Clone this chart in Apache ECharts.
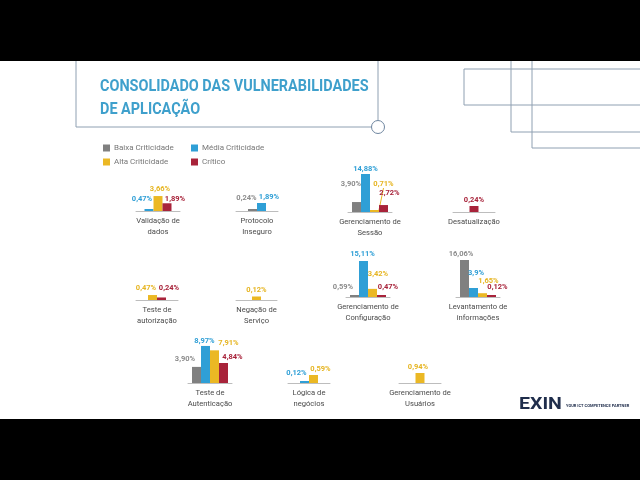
<!DOCTYPE html>
<html><head><meta charset="utf-8">
<script src="https://cdn.jsdelivr.net/npm/echarts@6/dist/echarts.min.js"></script>
<style>html,body{margin:0;padding:0;background:#000}#c{width:640px;height:480px}</style>
</head><body><div id="c"></div>
<script>
// ---------- data ----------
const levels = ['Baixa Criticidade', 'Média Criticidade', 'Alta Criticidade', 'Crítico'];
const categories = ['Validação de\ndados', 'Protocolo\nInseguro', 'Gerenciamento de\nSessão', 'Desatualização',
  'Teste de\nautorização', 'Negação de\nServiço', 'Gerenciamento de\nConfiguração', 'Levantamento de\ninformações',
  'Teste de\nAutenticação', 'Lógica de\nnegócios', 'Gerenciamento de\nUsuários'];
const baixa   = [null, '0,24', '3,90', null, null, null, '0,59', '16,06', '3,90', null, null];
const media   = ['0,47', '1,89', '14,88', null, null, null, '15,11', '3,9', '8,97', '0,12', null];
const alta    = ['3,66', null, '0,71', null, '0,47', '0,12', '3,42', '1,65', '7,91', '0,59', '0,94'];
const critico = ['1,89', null, '2,72', '0,24', '0,24', null, '0,47', '0,12', '4,84', null, null];
const levelValues = [baixa, media, alta, critico];

// ---------- styling / layout ----------
const barColors = ['#808080', '#2f9fd6', '#ebb824', '#a8233a'];
const labelColors = ['#8c8c8c', '#2f9fd6', '#e6b522', '#a8233a'];
const cells = [
  {left:136, width:44, base:211, ymax:9.3,   shift:[null,[-7,-4],[2,-1],[8,2]]},
  {left:236, width:42, base:211, ymax:9,     shift:[[-6,-5],[7.5,0],null,null]},
  {left:348, width:44, base:212, ymax:14.88, shift:[[-5.5,-12],[0,1],[9,-20],[6,-6]], leader:2},
  {left:453, width:42, base:212, ymax:1.52,  shift:[null,null,null,[0,0]]},
  {left:136, width:42, base:300, ymax:3.6,   shift:[null,null,[-6.5,-1],[7.5,-3.5]]},
  {left:236, width:41, base:300, ymax:1.3,   shift:[null,null,[0,0],null]},
  {left:346, width:44, base:297, ymax:15.95, shift:[[-11.5,-1.6],[-1,-1],[5.5,-9],[6.5,-2]]},
  {left:456, width:44, base:297, ymax:16.5,  shift:[[-3.5,0],[2.5,-9],[6,-6],[6,-2]]},
  {left:188, width:44, base:383, ymax:9.2,   shift:[[-11.5,-2],[-1,1],[14,-1],[9,0]]},
  {left:288, width:42, base:383, ymax:2.8,   shift:[null,[-8,-2],[7,0],null]},
  {left:399, width:42, base:383, ymax:3.57,  shift:[null,null,[-2,0],null]}
];
const H = 38;
const toNum = s => parseFloat(s.replace(',', '.'));

const grid = [], xAxis = [], yAxis = [], series = [];
cells.forEach((c, i) => {
  grid.push({left:c.left, top:c.base - H, width:c.width, height:H});
  xAxis.push({type:'category', gridIndex:i, data:[categories[i]],
    axisTick:{show:false}, axisLine:{lineStyle:{color:'#bdbdbd', width:1}},
    axisLabel:{interval:0, fontSize:7.6, color:'#4a4a4a', lineHeight:11, margin:5, fontFamily:'Roboto'}});
  yAxis.push({type:'value', gridIndex:i, min:0, max:c.ymax, show:false, splitLine:{show:false}});
  levels.forEach((lv, k) => {
    const s = levelValues[k][i];
    if (s === null) return;
    const sh = c.shift[k] || [0,0];
    const ser = {
      type:'bar', name:lv, xAxisIndex:i, yAxisIndex:i, barWidth:9, barGap:'0%', barMinHeight:2,
      data:[toNum(s)], itemStyle:{color:barColors[k]},
      label:{show:true, position:'top', distance:2, formatter:s + '%', color:labelColors[k],
        fontSize:7.5, fontWeight:'bold', fontFamily:'Roboto'},
      labelLayout:{dx:sh[0], dy:sh[1]},
      animation:false
    };
    if (c.leader === k) {
      ser.labelLine = {show:true, lineStyle:{color:labelColors[k], width:1}};
    }
    series.push(ser);
  });
});

const lineCol = '#8fa0b2';
const graphic = [
  {type:'rect', shape:{x:0, y:61, width:640, height:358}, style:{fill:'#fff'}, z:-10},
  {type:'polyline', shape:{points:[[76,61],[76,127],[378,127]]}, style:{stroke:lineCol, lineWidth:1, fill:null}},
  {type:'line', shape:{x1:378, y1:61, x2:378, y2:120}, style:{stroke:lineCol, lineWidth:1}},
  {type:'circle', shape:{cx:378, cy:127, r:6.5}, style:{stroke:'#6f86a0', lineWidth:1, fill:'#fff'}},
  {type:'polyline', shape:{points:[[640,69],[464,69],[464,105],[640,105]]}, style:{stroke:lineCol, lineWidth:1, fill:null}},
  {type:'polyline', shape:{points:[[511,61],[511,132],[640,132]]}, style:{stroke:lineCol, lineWidth:1, fill:null}},
  {type:'polyline', shape:{points:[[532,61],[532,148],[640,148]]}, style:{stroke:lineCol, lineWidth:1, fill:null}},
  {type:'text', x:100, y:87, scaleX:0.875, style:{text:'CONSOLIDADO DAS VULNERABILIDADES', fill:'#3fa0cc',
    font:'bold 16.5px Roboto', textVerticalAlign:'middle'}},
  {type:'text', x:100, y:110, scaleX:0.875, style:{text:'DE APLICAÇÃO', fill:'#3fa0cc',
    font:'bold 16.5px Roboto', textVerticalAlign:'middle'}},
  {type:'text', x:519, y:405, scaleX:1.15, style:{text:'EXIN', fill:'#1f2d4b', font:'bold 17px Roboto', textVerticalAlign:'middle'}},
  {type:'text', x:566, y:406, style:{text:'YOUR ICT COMPETENCE PARTNER', fill:'#1f2d4b', font:'bold 4px Roboto', textVerticalAlign:'middle'}}
];

const legendBase = {orient:'vertical', icon:'rect', itemWidth:7, itemHeight:7, itemGap:6,
  textStyle:{fontSize:8, color:'#777', fontFamily:'Roboto', padding:[0,0,0,-1]}};

const chart = echarts.init(document.getElementById('c'), null, {renderer:'canvas'});
chart.setOption({
  backgroundColor:'#000',
  animation:false,
  graphic:graphic,
  legend:[
    Object.assign({}, legendBase, {left:98, top:139, data:[levels[0], levels[2]]}),
    Object.assign({}, legendBase, {left:186, top:139, data:[levels[1], levels[3]]})
  ],
  grid:grid, xAxis:xAxis, yAxis:yAxis, series:series
});
</script>
</body></html>
